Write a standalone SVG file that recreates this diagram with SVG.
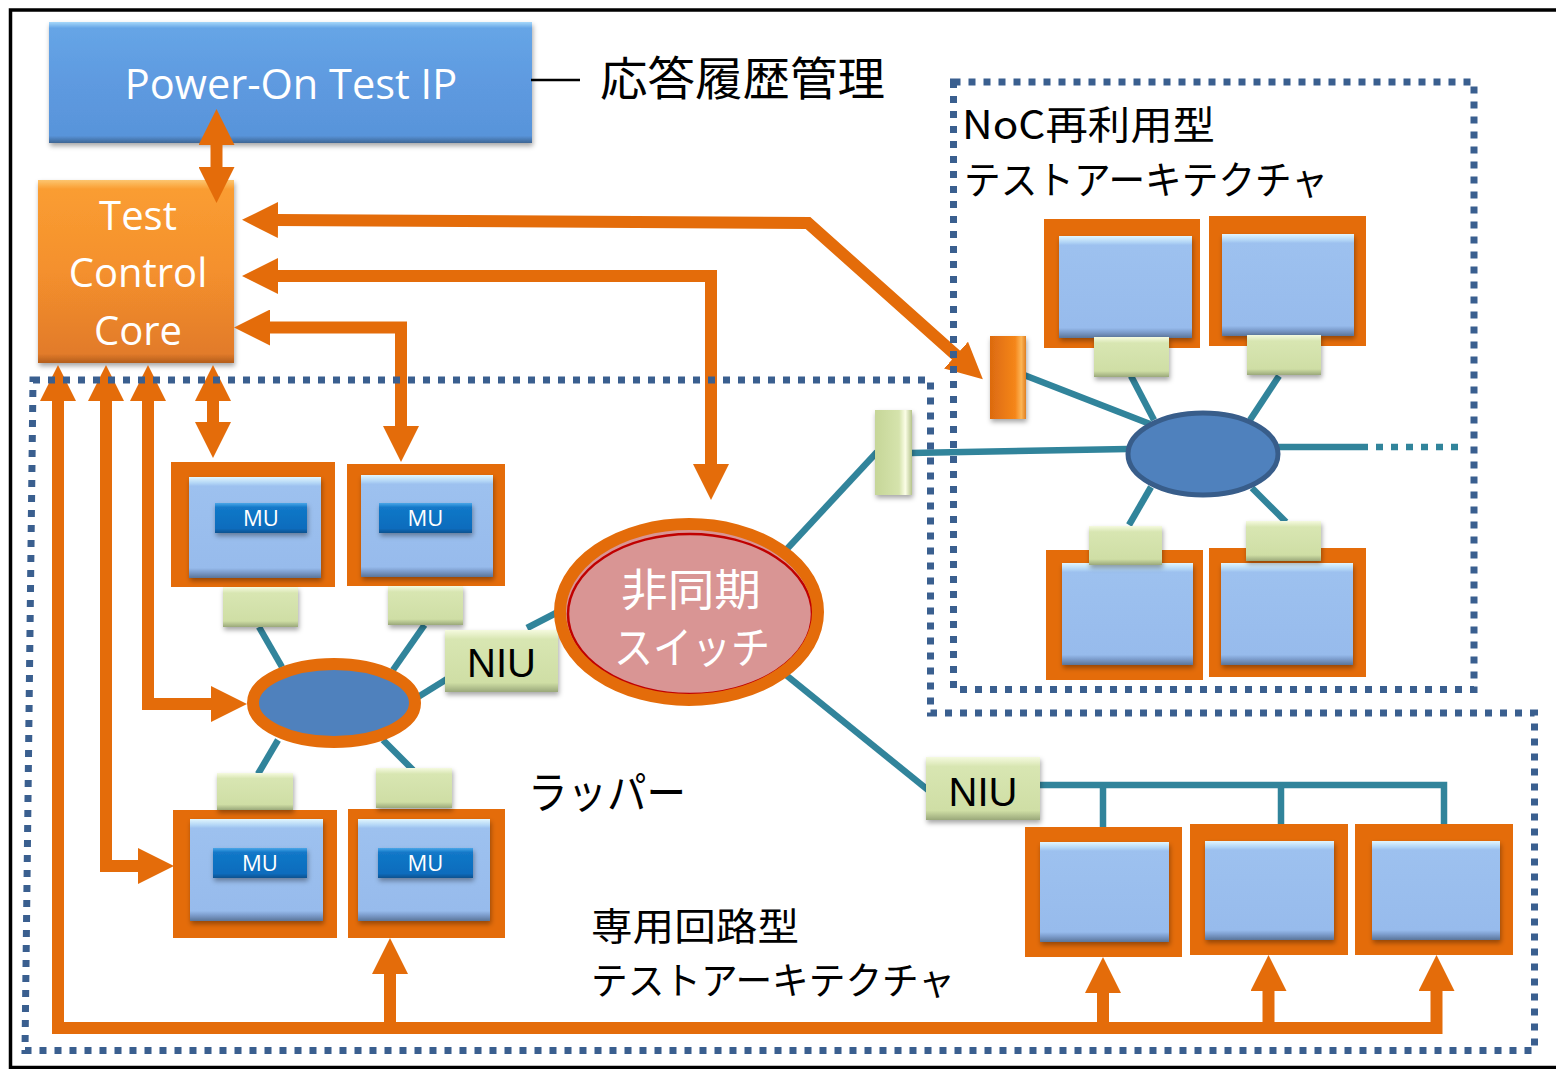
<svg xmlns="http://www.w3.org/2000/svg" width="1556" height="1069" viewBox="0 0 1556 1069">
<defs>
<style>
.frame{fill:#e46c0a}
.core{fill:url(#gBlue);filter:url(#sh)}
.tab{fill:url(#gGreen);filter:url(#sh)}
.mu{fill:url(#gMU);filter:url(#sh)}
.mut{font-family:"Open Sans","DejaVu Sans",sans-serif;font-size:22px;fill:#fff;text-anchor:middle}
.wt{font-family:"Open Sans","DejaVu Sans",sans-serif;font-size:40px;fill:#fff;text-anchor:middle}
.niu{font-family:"Liberation Sans",Arial,sans-serif;font-size:40px;fill:#000;text-anchor:middle}
.jp{font-family:"Noto Sans CJK JP","Noto Sans",sans-serif;fill:#000}
.jpw{font-family:"Noto Sans CJK JP","Noto Sans",sans-serif;fill:#fff;text-anchor:middle;font-size:44px}
.teal{stroke:#31849b;stroke-width:6.5;fill:none}
.oa{stroke:#e46c0a;stroke-width:12;fill:none;stroke-linejoin:miter}
.dot{stroke:#3a5f8f;stroke-width:7;stroke-dasharray:7 8;fill:none}
</style>
<filter id="sh" x="-20%" y="-20%" width="140%" height="150%">
<feDropShadow dx="1" dy="3" stdDeviation="2.5" flood-color="#000" flood-opacity="0.35"/>
</filter>
<linearGradient id="gBlue" x1="0" y1="0" x2="0" y2="1">
<stop offset="0" stop-color="#e2f6fd"/>
<stop offset="0.06" stop-color="#b3d6f6"/>
<stop offset="0.09" stop-color="#9dc1ef"/>
<stop offset="0.9" stop-color="#97bbec"/>
<stop offset="0.94" stop-color="#7e9fcf"/>
<stop offset="1" stop-color="#5b7599"/>
</linearGradient>
<linearGradient id="gGreen" x1="0" y1="0" x2="0" y2="1">
<stop offset="0" stop-color="#f5fadf"/>
<stop offset="0.15" stop-color="#d8e6b2"/>
<stop offset="0.85" stop-color="#cfdea5"/>
<stop offset="1" stop-color="#9aa87a"/>
</linearGradient>
<linearGradient id="gGreenV" x1="0" y1="0" x2="1" y2="0">
<stop offset="0" stop-color="#c6d698"/>
<stop offset="0.65" stop-color="#d5e3ac"/>
<stop offset="0.82" stop-color="#fbfde6"/>
<stop offset="1" stop-color="#b5c48b"/>
</linearGradient>
<linearGradient id="gOrV" x1="0" y1="0" x2="1" y2="0">
<stop offset="0" stop-color="#dc6a10"/>
<stop offset="0.7" stop-color="#f5861a"/>
<stop offset="0.87" stop-color="#fcb556"/>
<stop offset="1" stop-color="#e07f20"/>
</linearGradient>
<linearGradient id="gMU" x1="0" y1="0" x2="0" y2="1">
<stop offset="0" stop-color="#4aa6e8"/>
<stop offset="0.15" stop-color="#1278c8"/>
<stop offset="0.85" stop-color="#0b6cbd"/>
<stop offset="1" stop-color="#08518f"/>
</linearGradient>
<linearGradient id="gPO" x1="0" y1="0" x2="0" y2="1">
<stop offset="0" stop-color="#a6d8fa"/>
<stop offset="0.05" stop-color="#66a5e6"/>
<stop offset="0.5" stop-color="#5e9ae0"/>
<stop offset="0.94" stop-color="#5894da"/>
<stop offset="1" stop-color="#3e6594"/>
</linearGradient>
<linearGradient id="gTCC" x1="0" y1="0" x2="0" y2="1">
<stop offset="0" stop-color="#fcc56f"/>
<stop offset="0.05" stop-color="#fa9d31"/>
<stop offset="0.5" stop-color="#f4902d"/>
<stop offset="0.95" stop-color="#e27b2b"/>
<stop offset="1" stop-color="#b35d1b"/>
</linearGradient>
<marker id="ah" viewBox="0 0 36 36" markerWidth="36" markerHeight="36" refX="2" refY="18" orient="auto-start-reverse" markerUnits="userSpaceOnUse">
<path d="M0,0 L36,18 L0,36 Z" fill="#e46c0a"/>
</marker>
</defs>

<rect x="0" y="0" width="1556" height="1069" fill="#fff"/>
<rect x="10.5" y="10" width="1560" height="1057.5" fill="none" stroke="#000" stroke-width="3.5"/>

<g id="connectors-links">
<path class="teal" d="M259,627 L282,667"/>
<path class="teal" d="M424.5,625 L393,670"/>
<path class="teal" d="M418,697 L447,679"/>
<path class="teal" d="M278,740 L258,774"/>
<path class="teal" d="M383,740 L413,770"/>
<path class="teal" d="M527,628 L558,612"/>
<path class="teal" d="M786,550 L877,452"/>
<path class="teal" d="M786,675 L928,790"/>
<path class="teal" d="M1040,785 H1444 V826 M1103,785 V828 M1281,785 V826"/>
<path class="teal" d="M910,453 L1128,449"/>
<path class="teal" d="M1024,375 L1150,424"/>
<path class="teal" d="M1131,376 L1154,420"/>
<path class="teal" d="M1279,376 L1250,420"/>
<path class="teal" d="M1151,487 L1129,525"/>
<path class="teal" d="M1252,488 L1286,522"/>
<path class="teal" d="M1278,447 L1361,447"/>
<path class="teal" d="M1361,447 L1458,447" stroke-dasharray="7 8"/>
</g>

<g id="power-on-test-ip">
<rect x="49" y="22" width="483" height="121" fill="url(#gPO)" filter="url(#sh)"/>
<text class="wt" x="291" y="99" style="font-size:41.5px">Power-On Test IP</text>
</g>

<g id="label-history">
<line x1="531" y1="80" x2="580" y2="80" stroke="#000" stroke-width="2.5"/>
<text class="jp" x="600" y="95" font-size="46" textLength="285" lengthAdjust="spacingAndGlyphs">応答履歴管理</text>
</g>

<g id="test-control-core">
<rect x="38" y="180" width="196" height="183" fill="url(#gTCC)" filter="url(#sh)"/>
<text class="wt" x="138" y="230">Test</text>
<text class="wt" x="138" y="287">Control</text>
<text class="wt" x="138" y="345">Core</text>
</g>

<g id="mu1">
<rect class="frame" x="171" y="462" width="164" height="125"/>
<rect class="core" x="189" y="477" width="132" height="101"/>
<rect class="mu" x="215" y="503" width="92" height="30"/>
<text class="mut" x="261" y="526">MU</text>
<rect class="tab" x="223" y="587" width="75" height="40"/>
</g>

<g id="mu2">
<rect class="frame" x="347" y="464" width="158" height="122"/>
<rect class="core" x="361" y="475" width="132" height="102"/>
<rect class="mu" x="379" y="503" width="93" height="30"/>
<text class="mut" x="425.5" y="526">MU</text>
<rect class="tab" x="388" y="586" width="75" height="39"/>
</g>

<g id="mu3">
<rect class="frame" x="173" y="810" width="164" height="128"/>
<rect class="core" x="190" y="819" width="133" height="102"/>
<rect class="mu" x="213" y="848" width="94" height="30"/>
<text class="mut" x="260" y="871">MU</text>
<rect class="tab" x="217" y="773" width="76" height="37"/>
</g>

<g id="mu4">
<rect class="frame" x="348" y="809" width="157" height="129"/>
<rect class="core" x="358" y="819" width="132" height="102"/>
<rect class="mu" x="378" y="848" width="95" height="30"/>
<text class="mut" x="425.5" y="871">MU</text>
<rect class="tab" x="376" y="768" width="76" height="40"/>
</g>

<g id="wrapper-router">
<ellipse cx="334" cy="703" rx="81" ry="39" fill="#4f81bd" stroke="#e46c0a" stroke-width="12"/>
</g>

<g id="niu1">
<rect class="tab" x="445" y="630" width="113" height="62"/>
<text class="niu" x="501.5" y="677">NIU</text>
</g>

<g id="async-switch">
<ellipse cx="689" cy="612" rx="129" ry="88" fill="#d99594"/>
<ellipse cx="690" cy="614" rx="122" ry="80" fill="none" stroke="#c00000" stroke-width="2.5"/>
<ellipse cx="689" cy="612" rx="129" ry="88" fill="none" stroke="#e46c0a" stroke-width="12"/>
<text class="jpw" x="691" y="606" textLength="140" lengthAdjust="spacingAndGlyphs">非同期</text>
<text class="jpw" x="692" y="664" textLength="156" lengthAdjust="spacingAndGlyphs">スイッチ</text>
</g>

<g id="niu2">
<rect class="tab" x="926" y="757" width="114" height="63"/>
<text class="niu" x="983" y="806">NIU</text>
</g>

<g id="noc-gateway">
<rect x="875" y="410" width="37" height="85" fill="url(#gGreenV)" filter="url(#sh)"/>
</g>

<g id="noc-test-port">
<rect x="990" y="336" width="36" height="83" fill="url(#gOrV)" filter="url(#sh)"/>
</g>

<g id="noc-router">
<ellipse cx="1203" cy="454" rx="75" ry="41" fill="#4f81bd" stroke="#385d8a" stroke-width="5"/>
</g>

<g id="noc-core-tl">
<rect class="frame" x="1044" y="219" width="156" height="129"/>
<rect class="core" x="1059" y="236" width="133" height="102"/>
<rect class="tab" x="1094" y="337" width="75" height="40"/>
</g>
<g id="noc-core-tr">
<rect class="frame" x="1209" y="216" width="157" height="130"/>
<rect class="core" x="1222" y="234" width="132" height="102"/>
<rect class="tab" x="1247" y="335" width="74" height="40"/>
</g>
<g id="noc-core-bl">
<rect class="frame" x="1046" y="550" width="157" height="130"/>
<rect class="core" x="1062" y="563" width="131" height="102"/>
<rect class="tab" x="1089" y="526" width="73" height="39"/>
</g>
<g id="noc-core-br">
<rect class="frame" x="1209" y="548" width="157" height="129"/>
<rect class="core" x="1221" y="563" width="132" height="102"/>
<rect class="tab" x="1246" y="521" width="75" height="40"/>
</g>

<g id="core-b1">
<rect class="frame" x="1025" y="827" width="157" height="130"/>
<rect class="core" x="1040" y="842" width="129" height="100"/>
</g>
<g id="core-b2">
<rect class="frame" x="1190" y="824" width="158" height="131"/>
<rect class="core" x="1205" y="841" width="129" height="99"/>
</g>
<g id="core-b3">
<rect class="frame" x="1355" y="824" width="158" height="131"/>
<rect class="core" x="1372" y="841" width="128" height="99"/>
</g>

<g id="connectors-test">
<path class="oa" d="M216.5,143 V169" marker-start="url(#ah)" marker-end="url(#ah)"/>
<path class="oa" d="M276,220 L808,223 L957.5,356.5" marker-start="url(#ah)" marker-end="url(#ah)"/>
<path class="oa" d="M276,276 H711 V466" marker-start="url(#ah)" marker-end="url(#ah)"/>
<path class="oa" d="M268,327.5 H401 V428" marker-start="url(#ah)" marker-end="url(#ah)"/>
<path class="oa" d="M213,399 V424" marker-start="url(#ah)" marker-end="url(#ah)"/>
<path class="oa" d="M58,399 V1028 H1436.5 V989" marker-start="url(#ah)" marker-end="url(#ah)"/>
<path class="oa" d="M390,1028 V972" marker-end="url(#ah)"/>
<path class="oa" d="M1103,1028 V991" marker-end="url(#ah)"/>
<path class="oa" d="M1268.5,1028 V989" marker-end="url(#ah)"/>
<path class="oa" d="M106,399 V866 H140" marker-start="url(#ah)" marker-end="url(#ah)"/>
<path class="oa" d="M148,399 V704 H213" marker-start="url(#ah)" marker-end="url(#ah)"/>
</g>

<g id="region-noc">
<rect class="dot" x="953.5" y="82" width="520.5" height="607.5"/>
<text class="jp" x="962" y="139" font-size="39" textLength="253" lengthAdjust="spacingAndGlyphs">NoC再利用型</text>
<text class="jp" x="964" y="194" font-size="39" textLength="364" lengthAdjust="spacingAndGlyphs">テストアーキテクチャ</text>
</g>

<g id="region-dedicated">
<path class="dot" d="M33,380 H930.5 V713 H1534.5 V1050.5 H25 Z"/>
<text class="jp" x="591" y="940" font-size="38" textLength="208" lengthAdjust="spacingAndGlyphs">専用回路型</text>
<text class="jp" x="591" y="994" font-size="38" textLength="364" lengthAdjust="spacingAndGlyphs">テストアーキテクチャ</text>
</g>

<g id="label-wrapper">
<text class="jp" x="528" y="809" font-size="44" textLength="158" lengthAdjust="spacingAndGlyphs">ラッパー</text>
</g>
</svg>
